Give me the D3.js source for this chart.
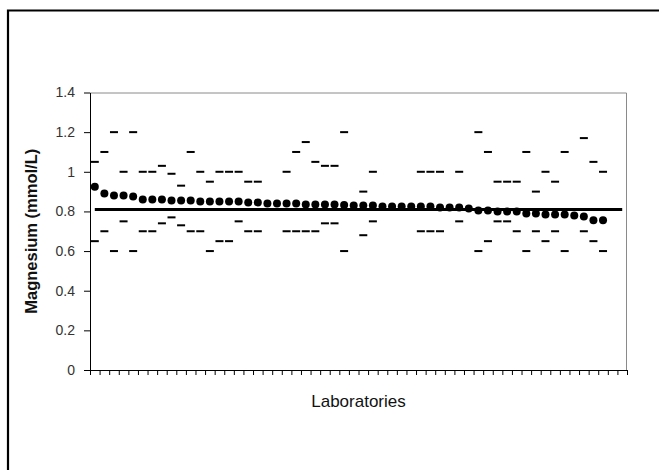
<!DOCTYPE html>
<html>
<head>
<meta charset="utf-8">
<script src="https://cdn.jsdelivr.net/npm/d3@7"></script>
<style>
	body { margin: 0; background: #fff; overflow: hidden; }
	svg { display: block; }
</style>
</head>
<body>
<svg></svg>
<script>
// labs on the x axis (56 slots, 54 with results)
var labs = d3.range(1, 57);

var means = [0.925, 0.89, 0.88, 0.88, 0.875, 0.86, 0.86, 0.86, 0.855, 0.855,
	0.855, 0.85, 0.85, 0.85, 0.85, 0.85, 0.845, 0.845, 0.84, 0.84,
	0.84, 0.84, 0.835, 0.835, 0.835, 0.835, 0.833, 0.83, 0.83, 0.83,
	0.825, 0.825, 0.825, 0.825, 0.825, 0.825, 0.82, 0.82, 0.82, 0.815,
	0.805, 0.805, 0.8, 0.8, 0.8, 0.79, 0.79, 0.785, 0.785, 0.785,
	0.78, 0.775, 0.755, 0.755];

var upper = [1.05, 1.1, 1.2, 1.0, 1.2, 1.0, 1.0, 1.03, 0.99, 0.93,
	1.1, 1.0, 0.95, 1.0, 1.0, 1.0, 0.95, 0.95, null, null,
	1.0, 1.1, 1.15, 1.05, 1.03, 1.03, 1.2, null, 0.9, 1.0,
	null, null, null, null, 1.0, 1.0, 1.0, null, 1.0, null,
	1.2, 1.1, 0.95, 0.95, 0.95, 1.1, 0.9, 1.0, 0.95, 1.1,
	null, 1.17, 1.05, 1.0];

var lower = [0.65, 0.7, 0.6, 0.75, 0.6, 0.7, 0.7, 0.74, 0.77, 0.73,
	0.7, 0.7, 0.6, 0.65, 0.65, 0.75, 0.7, 0.7, null, null,
	0.7, 0.7, 0.7, 0.7, 0.74, 0.74, 0.6, null, 0.68, 0.75,
	null, null, null, null, 0.7, 0.7, 0.7, null, 0.75, null,
	0.6, 0.65, 0.75, 0.75, 0.7, 0.6, 0.7, 0.65, 0.7, 0.6,
	null, 0.7, 0.65, 0.6];

var target = 0.81;

var yTicks = [0, 0.2, 0.4, 0.6, 0.8, 1.0, 1.2, 1.4];
var yTickLabels = ['0', '0.2', '0.4', '0.6', '0.8', '1', '1.2', '1.4'];

var W = 659;
var H = 470;
var margin = {
	top: 92.5,
	left: 90,
	right: 32,
	bottom: 100
};
var width = W - margin.left - margin.right;
var height = 370 - margin.top;

var svg = d3.select('svg')
	.attr('width', W)
	.attr('height', H);

// outer frame, only its top and left edges fall inside the picture
svg.append('path')
	.attr('d', `M8,${H}V10.5H${W}`)
	.attr('fill', 'none')
	.attr('stroke', '#000')
	.attr('stroke-width', 2.2);

var g = svg.append('g')
	.attr('transform', `translate(${margin.left},${margin.top})`);

var x = d3.scaleLinear()
	.domain([0, labs.length])
	.range([0, width]);

var y = d3.scaleLinear()
	.domain([0, 1.4])
	.range([height, 0]);

// plot area border (top and right)
g.append('path')
	.attr('d', `M0,0.5H${width - 0.5}V${height}`)
	.attr('fill', 'none')
	.attr('stroke', '#8a8a8a')
	.attr('stroke-width', 1);

var yAxis = d3.axisLeft(y)
	.tickValues(yTicks)
	.tickFormat(function(d, i) { return yTickLabels[i]; })
	.tickSize(6)
	.tickSizeOuter(0)
	.tickPadding(9);

var yg = g.append('g')
	.call(yAxis);

var xAxis = d3.axisBottom(x)
	.tickValues(d3.range(0, labs.length + 1))
	.tickFormat('')
	.tickSize(5)
	.tickSizeOuter(0);

var xg = g.append('g')
	.attr('transform', `translate(0,${height})`)
	.call(xAxis);

[yg, xg].forEach(function(a) {
	a.select('.domain').attr('stroke', '#000');
	a.selectAll('.tick line').attr('stroke', '#000');
	a.selectAll('.tick text')
		.attr('fill', '#333')
		.style('font-family', 'Arial, "Liberation Sans", sans-serif')
		.style('font-size', '14px');
});

// reference line across all lab slots
var line = d3.line()
	.x(function(d, i) { return x(i + 0.5); })
	.y(function(d) { return y(d); });

g.append('path')
	.attr('d', line(labs.map(function() { return target; })))
	.attr('stroke', '#000')
	.attr('stroke-width', 3)
	.attr('fill', 'none');

// upper and lower limits as dash markers
function dashes(values) {
	g.append('g')
		.selectAll('rect')
		.data(values.map(function(v, i) { return {i: i, v: v}; }).filter(function(d) { return d.v != null; }))
		.enter()
		.append('rect')
		.attr('x', function(d) { return x(d.i + 0.5) - 4; })
		.attr('y', function(d) { return y(d.v) - 1; })
		.attr('width', 8)
		.attr('height', 2)
		.attr('fill', '#000');
}
dashes(upper);
dashes(lower);

g.append('g')
	.selectAll('circle')
	.data(means)
	.enter()
	.append('circle')
	.attr('cx', function(d, i) { return x(i + 0.5); })
	.attr('cy', function(d) { return y(d); })
	.attr('r', 4)
	.attr('fill', '#000');

svg.append('text')
	.attr('x', margin.left + width / 2)
	.attr('y', 407)
	.attr('text-anchor', 'middle')
	.style('font-family', 'Arial, "Liberation Sans", sans-serif')
	.style('font-size', '17px')
	.attr('fill', '#111')
	.text('Laboratories');

svg.append('text')
	.attr('transform', `translate(37,${margin.top + height / 2}) rotate(-90)`)
	.attr('text-anchor', 'middle')
	.style('font-family', 'Arial, "Liberation Sans", sans-serif')
	.style('font-size', '16.5px')
	.style('font-weight', 'bold')
	.attr('fill', '#111')
	.text('Magnesium (mmol/L)');
</script>
</body>
</html>
